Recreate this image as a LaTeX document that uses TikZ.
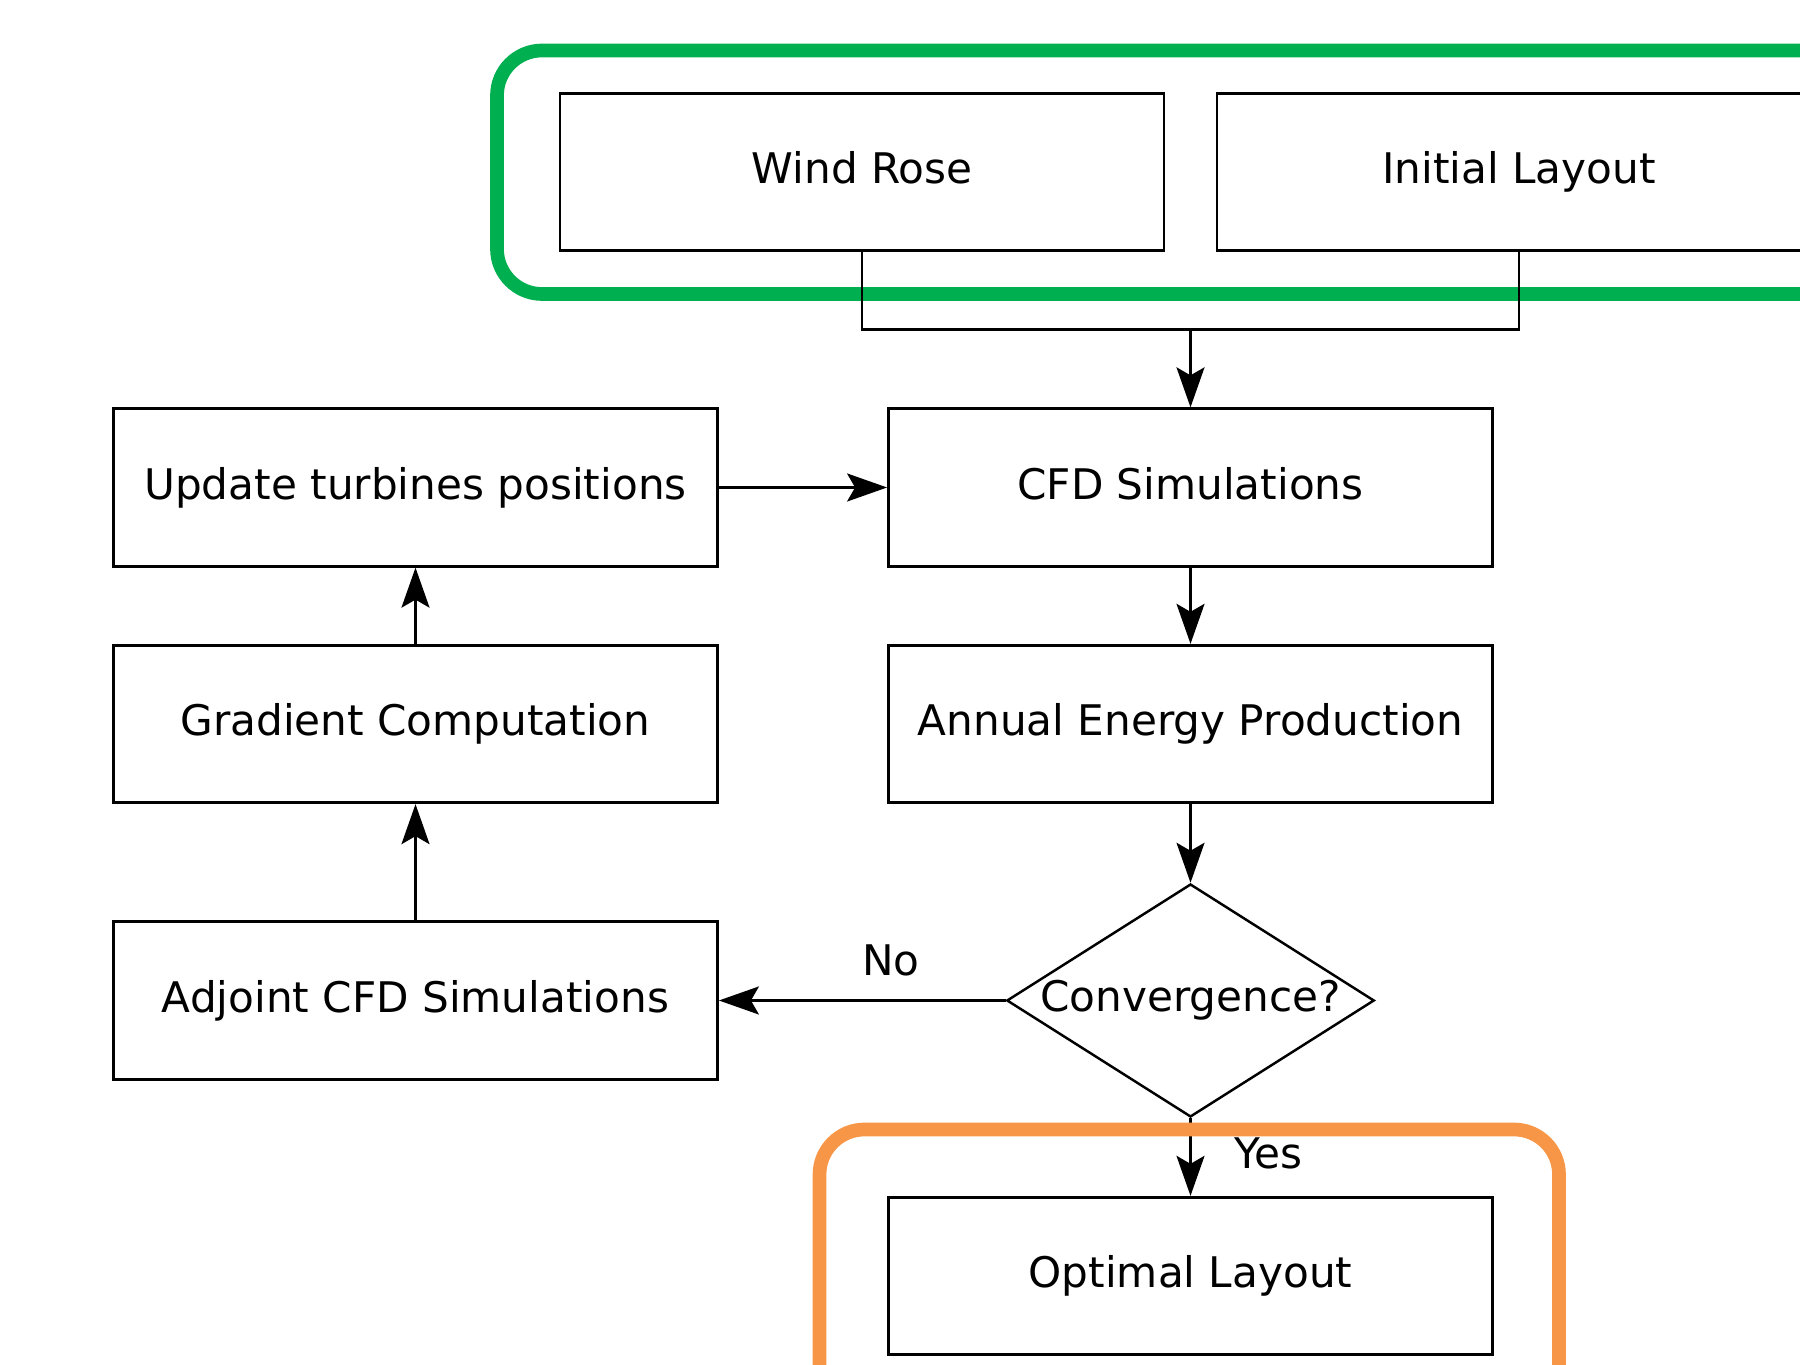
\documentclass[tikz,border=0pt]{standalone}
\usepackage{fontspec}
\setmainfont{DejaVu Sans}
\usetikzlibrary{shapes.geometric,arrows.meta}

\definecolor{framegreen}{HTML}{00B050}
\definecolor{frameorange}{HTML}{F79646}

\begin{document}
\begin{tikzpicture}[
    font=\fontsize{24}{29}\selectfont,
    stepbox/.style={draw, line width=1.6pt, minimum width=12.08cm, minimum height=3.15cm, inner sep=0pt, text height=18pt, text depth=4.4pt},
    decision/.style={draw, line width=1.4pt, shape=diamond, aspect=1.58, minimum width=7.35cm, minimum height=4.66cm, inner sep=0pt},
    flow/.style={line width=1.3pt, -{Stealth[length=0.8cm, width=0.56cm, inset=0.16cm]}},
    link/.style={line width=1.3pt},
    frame/.style={line width=7.8pt, rounded corners=0.9cm}
  ]
    \useasboundingbox (0,0) rectangle (36,27.28);
    \clip (0,0) rectangle (36,27.28);

    % inputs frame
    \draw[frame, framegreen] (9.94,21.40) rectangle (40,26.27);

    \node[stepbox] (wind) at (17.24,23.84) {Wind Rose};
    \node[stepbox] (init) at (30.38,23.84) {Initial Layout};

    \node[stepbox] (update) at (8.31,17.53) {Update turbines positions};
    \node[stepbox] (cfd) at (23.81,17.53) {CFD Simulations};

    \node[stepbox] (grad) at (8.31,12.80) {Gradient Computation};
    \node[stepbox] (aep) at (23.81,12.80) {Annual Energy Production};

    \node[stepbox] (adjoint) at (8.31,7.27) {Adjoint CFD Simulations};
    \node[decision] (conv) at (23.81,7.27) {Convergence?};

    \node[stepbox] (optimal) at (23.81,1.76) {Optimal Layout};

    % connectors
    \coordinate (join) at (23.81,20.69);
    \draw[link] (wind.south) |- (join) -| (init.south);
    \draw[flow] (join) -- (cfd.north);
    \draw[flow] (cfd) -- (aep);
    \draw[flow] (aep) -- (conv.north);
    \draw[flow] (conv.west) -- (adjoint.east) node[pos=0.4, above=0.35cm] (no) {No};
    \draw[flow] (adjoint) -- (grad);
    \draw[flow] (grad) -- (update);
    \draw[flow] (update) -- (cfd);
    \draw[flow] (conv.south) -- (optimal.north);
    \node (yes) at (25.37,4.21) {Yes};

    % result frame
    \draw[frame, frameorange] (16.39,-2) rectangle (31.18,4.69);
\end{tikzpicture}
\end{document}
